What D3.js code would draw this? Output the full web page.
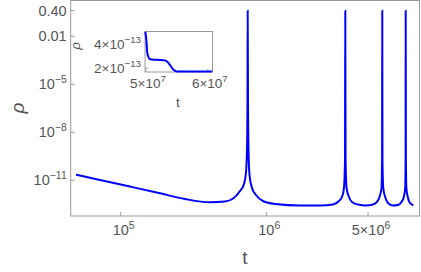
<!DOCTYPE html>
<html>
<head>
<meta charset="utf-8">
<script src="https://cdn.jsdelivr.net/npm/d3@7"></script>
<style>
  body { margin: 0; background: #fff; }
  svg { display: block; }
  text { font-family: "Liberation Sans", Arial, sans-serif; fill: #555; }
</style>
</head>
<body>
<svg id="chart" width="421" height="272"></svg>
<script>
// main curve: t and rho
const tValues = [
  4.93e4, 7.21e4, 1.158e5, 1.862e5, 2.76e5, 4.10e5, 5.20e5, 5.91e5, 6.60e5, 7.03e5,
  7.25e5, 7.37e5, 7.43e5, 7.45e5, 7.49e5, 7.55e5, 7.67e5, 7.98e5, 8.50e5, 9.49e5,
  1.148e6, 1.704e6, 2.338e6, 2.872e6, 3.157e6, 3.311e6, 3.417e6, 3.472e6, 3.488e6, 3.505e6,
  3.561e6, 3.698e6, 3.878e6, 4.264e6, 4.838e6, 5.406e6, 5.758e6, 5.991e6, 6.183e6, 6.241e6,
  6.261e6, 6.281e6, 6.361e6, 6.555e6, 6.853e6, 7.417e6, 8.026e6, 8.483e6, 8.80e6, 8.995e6,
  9.052e6, 9.066e6, 9.096e6, 9.167e6, 9.372e6, 9.706e6, 1.022e7
];
const rhoValues = [
  2.24e-11, 1.05e-11, 4.04e-12, 1.54e-12, 6.78e-13, 4.22e-13, 4.73e-13, 7.29e-13, 2.14e-12, 5.87e-12,
  2.86e-11, 7.83e-10, 1.04e-6, 0.40, 1.04e-6, 7.83e-10, 2.14e-11, 3.30e-12, 1.21e-12, 5.08e-13,
  3.30e-13, 2.66e-13, 2.66e-13, 3.07e-13, 5.08e-13, 9.04e-13, 3.30e-12, 1.86e-10, 0.40, 1.86e-10,
  3.30e-12, 9.04e-13, 4.41e-13, 3.07e-13, 2.66e-13, 3.07e-13, 4.41e-13, 9.04e-13, 3.30e-12, 1.86e-10,
  0.40, 1.86e-10, 3.30e-12, 9.04e-13, 3.81e-13, 2.66e-13, 2.86e-13, 4.41e-13, 9.04e-13, 3.30e-12,
  1.86e-10, 0.40, 1.86e-10, 3.30e-12, 9.04e-13, 3.81e-13, 2.74e-13
];

// inset curve
const insetT = [4.99e7, 5.01e7, 5.02e7, 5.04e7, 5.06e7, 5.13e7, 5.23e7, 5.31e7, 5.35e7, 5.40e7, 5.45e7, 5.50e7, 5.63e7, 6.07e7];
const insetRho = [5.03e-13, 4.17e-13, 3.33e-13, 2.92e-13, 2.75e-13, 2.69e-13, 2.68e-13, 2.64e-13, 2.5e-13, 2.17e-13, 1.83e-13, 1.72e-13, 1.71e-13, 1.71e-13];

// ticks: [value, mantissa, exponent]
const xTicks = [[1e5, '', '5'], [1e6, '', '6'], [5e6, '5', '6']];
const yTicks = [[0.4, '0.40', null], [0.01, '0.01', null], [1e-5, '', '-5'], [1e-8, '', '-8'], [1e-11, '', '-11']];
const insetXTicks = [[5e7, '5', '7'], [6e7, '6', '7']];
const insetYTicks = [[4e-13, '4', '-13'], [2e-13, '2', '-13']];

const svg = d3.select('#chart');
const frame = {left: 70.7, top: 0.5, right: 419.5, bottom: 216};
const lineColor = '#0000ff';
const axisColor = '#9a9a9a';

const x = d3.scaleLog().domain([45360, 1.128e7]).range([frame.left, frame.right]);
const y = d3.scaleLog().domain([5.87e-14, 1.73]).range([frame.bottom, frame.top]);

function writeLabel(sel, mant, exp, size) {
  sel.text(null);
  if (exp === null) {
    sel.text(mant);
    return;
  }
  sel.append('tspan').text(mant ? mant + '\u00d710' : '10');
  sel.append('tspan')
    .attr('dy', -size * 0.42)
    .style('font-size', (size * 0.72) + 'px')
    .text(exp.replace('-', '\u2212'));
}

function drawFrame(g, l, t, r, b) {
  g.append('rect')
    .attr('x', l).attr('y', t)
    .attr('width', r - l).attr('height', b - t)
    .attr('fill', 'none')
    .attr('stroke', axisColor)
    .attr('stroke-width', 1);
}

drawFrame(svg, frame.left, frame.top, frame.right, frame.bottom);

// y ticks
const yTickG = svg.append('g');
yTicks.forEach(([v, mant, exp]) => {
  yTickG.append('line')
    .attr('x1', frame.left).attr('x2', frame.left + 4)
    .attr('y1', y(v)).attr('y2', y(v))
    .attr('stroke', axisColor);
  const t = yTickG.append('text')
    .attr('x', frame.left - 4)
    .attr('y', y(v) + 5)
    .attr('text-anchor', 'end')
    .style('font-size', '14.5px');
  writeLabel(t, mant, exp, 14.5);
});

// x ticks
const xTickG = svg.append('g');
xTicks.forEach(([v, mant, exp]) => {
  xTickG.append('line')
    .attr('x1', x(v)).attr('x2', x(v))
    .attr('y1', frame.bottom).attr('y2', frame.bottom - 4)
    .attr('stroke', axisColor);
  const t = xTickG.append('text')
    .attr('x', x(v) + 3)
    .attr('y', frame.bottom + 19)
    .attr('text-anchor', 'middle')
    .style('font-size', '14.5px');
  writeLabel(t, mant, exp, 14.5);
});

svg.append('text')
  .attr('transform', 'translate(24,108) rotate(-90)')
  .attr('text-anchor', 'middle')
  .style('font-size', '19px')
  .style('font-style', 'italic')
  .text('\u03c1');

svg.append('text')
  .attr('x', 245)
  .attr('y', 264)
  .attr('text-anchor', 'middle')
  .style('font-size', '19px')
  .text('t');

const points = tValues.map((t, i) => [t, rhoValues[i]]);
const line = d3.line()
  .x(d => x(d[0]))
  .y(d => y(d[1]))
  .curve(d3.curveMonotoneX);

svg.append('path')
  .datum(points)
  .attr('d', line)
  .attr('fill', 'none')
  .attr('stroke', lineColor)
  .attr('stroke-width', 2);

// inset
const inset = {left: 145, top: 31.5, right: 212.5, bottom: 72};
const ix = d3.scaleLinear().domain([4.985e7, 6.075e7]).range([inset.left, inset.right]);
const iy = d3.scaleLinear().domain([1.67e-13, 5.05e-13]).range([inset.bottom, inset.top]);

const insetG = svg.append('g');
insetG.append('rect')
  .attr('x', inset.left).attr('y', inset.top)
  .attr('width', inset.right - inset.left).attr('height', inset.bottom - inset.top)
  .attr('fill', '#fff');
drawFrame(insetG, inset.left, inset.top, inset.right, inset.bottom);

insetYTicks.forEach(([v, mant, exp]) => {
  insetG.append('line')
    .attr('x1', inset.left).attr('x2', inset.left + 3)
    .attr('y1', iy(v)).attr('y2', iy(v))
    .attr('stroke', axisColor);
  const t = insetG.append('text')
    .attr('x', inset.left - 4)
    .attr('y', iy(v) + 5)
    .attr('text-anchor', 'end')
    .style('font-size', '13.5px');
  writeLabel(t, mant, exp, 13.5);
});

insetXTicks.forEach(([v, mant, exp]) => {
  insetG.append('line')
    .attr('x1', ix(v)).attr('x2', ix(v))
    .attr('y1', inset.bottom).attr('y2', inset.bottom - 3)
    .attr('stroke', axisColor);
  const t = insetG.append('text')
    .attr('x', ix(v) + 2)
    .attr('y', inset.bottom + 16)
    .attr('text-anchor', 'middle')
    .style('font-size', '13.5px');
  writeLabel(t, mant, exp, 13.5);
});

insetG.append('text')
  .attr('transform', 'translate(80,46) rotate(-90)')
  .attr('text-anchor', 'middle')
  .style('font-size', '13.5px')
  .style('font-style', 'italic')
  .text('\u03c1');

insetG.append('text')
  .attr('x', 178)
  .attr('y', 107)
  .attr('text-anchor', 'middle')
  .style('font-size', '13.5px')
  .text('t');

insetG.append('path')
  .datum(insetT.map((t, i) => [t, insetRho[i]]))
  .attr('d', d3.line().x(d => ix(d[0])).y(d => iy(d[1])).curve(d3.curveMonotoneX))
  .attr('fill', 'none')
  .attr('stroke', lineColor)
  .attr('stroke-width', 2);
</script>
</body>
</html>
